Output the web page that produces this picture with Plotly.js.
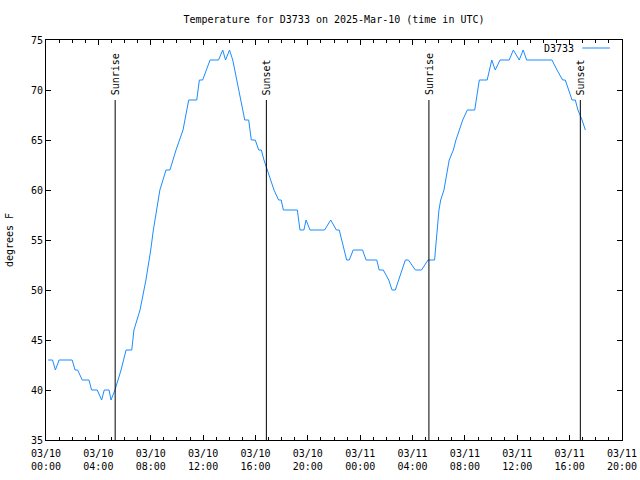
<!DOCTYPE html>
<html>
<head>
<meta charset="utf-8">
<script src="https://cdn.plot.ly/plotly-3.0.1.min.js"></script>
<style>html,body{margin:0;padding:0;background:#fff}#chart{width:640px;height:480px}</style>
</head>
<body>
<div id="chart"></div>
<script>
const seriesName = "D3733";
const chartTitle = "Temperature for D3733 on 2025-Mar-10 (time in UTC)";
const yTitle = "degrees F";

const times = [
 "2025-03-10 00:10","2025-03-10 00:30","2025-03-10 00:43","2025-03-10 01:00","2025-03-10 02:00",
 "2025-03-10 02:13","2025-03-10 02:25","2025-03-10 02:46","2025-03-10 03:17","2025-03-10 03:29",
 "2025-03-10 03:55","2025-03-10 04:15","2025-03-10 04:27","2025-03-10 04:49","2025-03-10 04:58",
 "2025-03-10 05:16","2025-03-10 05:44","2025-03-10 06:07","2025-03-10 06:33","2025-03-10 06:43",
 "2025-03-10 07:11","2025-03-10 07:38","2025-03-10 08:00","2025-03-10 08:12","2025-03-10 08:42",
 "2025-03-10 09:10","2025-03-10 09:28","2025-03-10 09:56","2025-03-10 10:28","2025-03-10 10:54",
 "2025-03-10 11:31","2025-03-10 11:43","2025-03-10 11:58","2025-03-10 12:32","2025-03-10 13:11",
 "2025-03-10 13:30","2025-03-10 13:43","2025-03-10 14:01","2025-03-10 14:16","2025-03-10 14:34",
 "2025-03-10 14:54","2025-03-10 15:11","2025-03-10 15:29","2025-03-10 15:41","2025-03-10 15:59",
 "2025-03-10 16:15","2025-03-10 16:27","2025-03-10 16:39","2025-03-10 17:25","2025-03-10 17:46",
 "2025-03-10 17:58","2025-03-10 18:08","2025-03-10 19:12","2025-03-10 19:24","2025-03-10 19:42",
 "2025-03-10 19:52","2025-03-10 20:10","2025-03-10 21:17","2025-03-10 21:45","2025-03-10 22:11",
 "2025-03-10 22:24","2025-03-10 22:58","2025-03-10 23:10","2025-03-10 23:28",
 "2025-03-11 00:11","2025-03-11 00:27","2025-03-11 01:16","2025-03-11 01:27","2025-03-11 01:46",
 "2025-03-11 02:11","2025-03-11 02:26","2025-03-11 02:41","2025-03-11 03:27","2025-03-11 03:41",
 "2025-03-11 04:13","2025-03-11 04:41","2025-03-11 05:11","2025-03-11 05:41","2025-03-11 06:01",
 "2025-03-11 06:09","2025-03-11 06:24","2025-03-11 06:33","2025-03-11 06:48","2025-03-11 07:07",
 "2025-03-11 07:19","2025-03-11 07:50","2025-03-11 08:11","2025-03-11 08:45","2025-03-11 08:57",
 "2025-03-11 09:06","2025-03-11 09:42","2025-03-11 10:03","2025-03-11 10:19","2025-03-11 10:41",
 "2025-03-11 11:23","2025-03-11 11:42","2025-03-11 12:09","2025-03-11 12:27","2025-03-11 12:43",
 "2025-03-11 14:39","2025-03-11 15:02","2025-03-11 15:28","2025-03-11 15:40","2025-03-11 16:11",
 "2025-03-11 16:26","2025-03-11 16:38","2025-03-11 16:57","2025-03-11 17:12"
];
const temps = [
 43,43,42,43,43,
 42,42,41,41,40,
 40,39,40,40,39,
 40,42,44,44,46,
 48,51,54,56,60,
 62,62,64,66,69,
 69,71,71,73,73,
 74,73,74,73,71,
 69,67,67,65,65,
 64,64,63,60,59,
 59,58,58,56,56,
 57,56,56,57,56,
 56,53,53,54,
 54,53,53,52,52,
 51,50,50,53,53,
 52,52,53,53,58,
 59,60,61,63,64,
 65,67,68,68,70,
 71,71,73,72,73,
 73,74,73,74,73,
 73,72,71,71,69,
 69,68,67,66
];

const eventTimes = ["2025-03-10 05:17","2025-03-10 16:50","2025-03-11 05:15","2025-03-11 16:49"];
const eventLabels = ["Sunrise","Sunset","Sunrise","Sunset"];

const xRange = ["2025-03-10 00:00","2025-03-11 20:00"];
const yRange = [35, 75];

const FONT = "DejaVu Sans Mono, Liberation Mono, monospace";
const lineColor = "#1a8cff";

const shapes = eventTimes.map(t => ({
  type: "line", xref: "x", yref: "paper", x0: t, x1: t, y0: 0, y1: 0.85,
  line: {color: "#000", width: 1}
}));
shapes.push({type: "line", xref: "paper", yref: "paper", x0: 0.931, x1: 0.979, y0: 0.98, y1: 0.98,
  line: {color: lineColor, width: 1}});

const annotations = eventTimes.map((t, i) => ({
  x: t, xref: "x", y: 0.857, yref: "paper", text: eventLabels[i], textangle: -90,
  showarrow: false, xanchor: "center", yanchor: "bottom",
  font: {family: FONT, size: 10, color: "#000"}
}));
annotations.push({x: 0.921, xref: "paper", y: 0.98, yref: "paper", text: seriesName,
  showarrow: false, xanchor: "right", yanchor: "middle", font: {family: FONT, size: 10, color: "#000"}});

const trace = {
  x: times, y: temps, type: "scatter", mode: "lines", name: seriesName,
  line: {color: lineColor, width: 1}, showlegend: false
};

const layout = {
  width: 640, height: 480,
  margin: {l: 46, r: 18, t: 40, b: 40},
  paper_bgcolor: "#fff", plot_bgcolor: "#fff",
  font: {family: FONT, size: 10, color: "#000"},
  title: {text: chartTitle, x: 0.5, xref: "paper", y: 1 - 19/480, yref: "container", yanchor: "middle",
          font: {family: FONT, size: 10, color: "#000"}},
  showlegend: false,
  xaxis: {
    type: "date", range: xRange, dtick: 4*3600000, tick0: xRange[0],
    tickformat: "%m/%d<br>%H:%M", ticks: "inside", ticklen: 5, tickwidth: 1, tickcolor: "#000",
    ticklabelstandoff: 4,
    minor: {dtick: 3600000, ticks: "inside", ticklen: 3, tickcolor: "#000", showgrid: false},
    showline: true, linecolor: "#000", linewidth: 1, mirror: "allticks",
    showgrid: false, zeroline: false, fixedrange: true,
    tickfont: {family: FONT, size: 10, color: "#000"}
  },
  yaxis: {
    range: yRange, dtick: 5, tick0: 35, ticks: "inside", ticklen: 5, tickwidth: 1, tickcolor: "#000",
    showline: true, linecolor: "#000", linewidth: 1, mirror: "allticks",
    showgrid: false, zeroline: false, fixedrange: true,
    tickfont: {family: FONT, size: 10, color: "#000"},
    title: {text: yTitle, standoff: 15, font: {family: FONT, size: 10, color: "#000"}}
  },
  shapes: shapes,
  annotations: annotations
};

Plotly.newPlot("chart", [trace], layout, {staticPlot: true, displayModeBar: false});
</script>
</body>
</html>
